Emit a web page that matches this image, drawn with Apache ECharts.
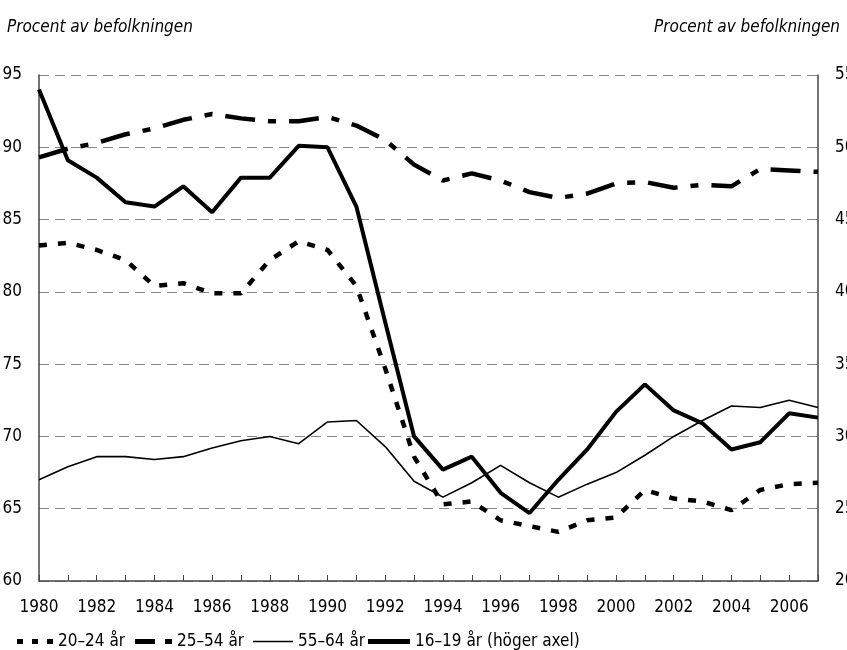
<!DOCTYPE html>
<html>
<head>
<meta charset="utf-8">
<script src="https://cdn.jsdelivr.net/npm/echarts@6/dist/echarts.min.js"></script>
<style>
  html, body { margin: 0; padding: 0; background: #fff; }
  #chart { width: 847px; height: 650px; }
</style>
</head>
<body>
<div id="chart"></div>
<script>
const years = ['1980','1981','1982','1983','1984','1985','1986','1987','1988','1989','1990','1991','1992','1993','1994','1995','1996','1997','1998','1999','2000','2001','2002','2003','2004','2005','2006','2007'];

// vänster axel
const age2024 = [83.2, 83.4, 82.9, 82.2, 80.4, 80.6, 79.9, 79.9, 82.2, 83.5, 82.9, 80.4, 74.7, 68.6, 65.3, 65.5, 64.2, 63.8, 63.4, 64.2, 64.4, 66.3, 65.7, 65.5, 64.9, 66.3, 66.7, 66.8];
const age2554 = [89.3, 89.9, 90.3, 90.9, 91.3, 91.9, 92.3, 92.0, 91.8, 91.8, 92.1, 91.5, 90.5, 88.8, 87.7, 88.2, 87.7, 86.9, 86.5, 86.8, 87.5, 87.6, 87.2, 87.4, 87.3, 88.5, 88.4, 88.3];
const age5564 = [67.0, 67.9, 68.6, 68.6, 68.4, 68.6, 69.2, 69.7, 70.0, 69.5, 71.0, 71.1, 69.3, 66.9, 65.8, 66.8, 68.0, 66.8, 65.8, 66.7, 67.5, 68.7, 70.0, 71.1, 72.1, 72.0, 72.5, 72.0];
// höger axel
const age1619 = [54.0, 49.1, 47.9, 46.2, 45.9, 47.3, 45.5, 47.9, 47.9, 50.1, 50.0, 45.9, 37.9, 30.0, 27.7, 28.6, 26.1, 24.7, 27.0, 29.1, 31.7, 33.6, 31.8, 30.9, 29.1, 29.6, 31.6, 31.3];

const font = "'Liberation Sans Narrow', 'DejaVu Sans Condensed', 'Liberation Sans', sans-serif";
const ink = '#000';

const chart = echarts.init(document.getElementById('chart'));

// legend icons drawn as filled paths (dash patterns)
function legendAt(name, left, icon, w, h) {
  return {
    data: [{ name: name, icon: icon }],
    left: left,
    top: 628,
    itemWidth: w,
    itemHeight: h,
    itemGap: 0,
    textStyle: { fontFamily: font, fontSize: 17, color: ink }
  };
}

chart.setOption({
  animation: false,
  textStyle: { fontFamily: font },
  title: [
    { text: 'Procent av befolkningen', left: 2, top: 14, textStyle: { fontFamily: font, fontSize: 17, fontStyle: 'italic', fontWeight: 'normal', color: ink } },
    { text: 'Procent av befolkningen', right: 2, top: 14, textStyle: { fontFamily: font, fontSize: 17, fontStyle: 'italic', fontWeight: 'normal', color: ink } }
  ],
  legend: [
    legendAt('20–24 år', 12, 'path://M0,0h6v5h-6z M15,0h6v5h-6z M30,0h6v5h-6z', 36, 5),
    legendAt('25–54 år', 130, 'path://M0,0h20v5h-20z M30,0h7v5h-7z', 37, 5),
    legendAt('55–64 år', 248, 'path://M0,0h40v1.6h-40z', 40, 1.6),
    legendAt('16–19 år (höger axel)', 363, 'path://M0,0h42v5h-42z', 42, 5)
  ],
  grid: { left: 39, right: 29, top: 75, bottom: 69, containLabel: false, outerBoundsMode: 'none' },
  xAxis: {
    type: 'category',
    data: years,
    boundaryGap: false,
    axisLine: { lineStyle: { color: '#444', width: 1.5 } },
    axisTick: { inside: true, length: 6, interval: 0, lineStyle: { color: '#444' } },
    axisLabel: { interval: 1, margin: 18, fontSize: 17, color: ink, fontFamily: font }
  },
  yAxis: [
    {
      type: 'value', min: 60, max: 95, interval: 5,
      axisLine: { show: true, lineStyle: { color: '#444', width: 1.5 } },
      axisTick: { show: false },
      axisLabel: { margin: 17, fontSize: 17, color: ink, fontFamily: font },
      splitLine: { lineStyle: { color: '#888', type: [10, 6], width: 1 } }
    },
    {
      type: 'value', min: 20, max: 55, interval: 5,
      axisLine: { show: true, lineStyle: { color: '#444', width: 1.5 } },
      axisTick: { show: false },
      axisLabel: { margin: 17, fontSize: 17, color: ink, fontFamily: font },
      splitLine: { show: false }
    }
  ],
  series: [
    { name: '20–24 år', type: 'line', data: age2024, symbol: 'none', yAxisIndex: 0,
      lineStyle: { color: ink, width: 4.5, type: [8, 11], cap: 'butt' }, itemStyle: { color: ink } },
    { name: '25–54 år', type: 'line', data: age2554, symbol: 'none', yAxisIndex: 0,
      lineStyle: { color: ink, width: 4.5, type: [30, 13, 8, 13], cap: 'butt' }, itemStyle: { color: ink } },
    { name: '55–64 år', type: 'line', data: age5564, symbol: 'none', yAxisIndex: 0,
      lineStyle: { color: ink, width: 1.6 }, itemStyle: { color: ink } },
    { name: '16–19 år (höger axel)', type: 'line', data: age1619, symbol: 'none', yAxisIndex: 1,
      lineStyle: { color: ink, width: 4 }, itemStyle: { color: ink } }
  ]
});
</script>
</body>
</html>
